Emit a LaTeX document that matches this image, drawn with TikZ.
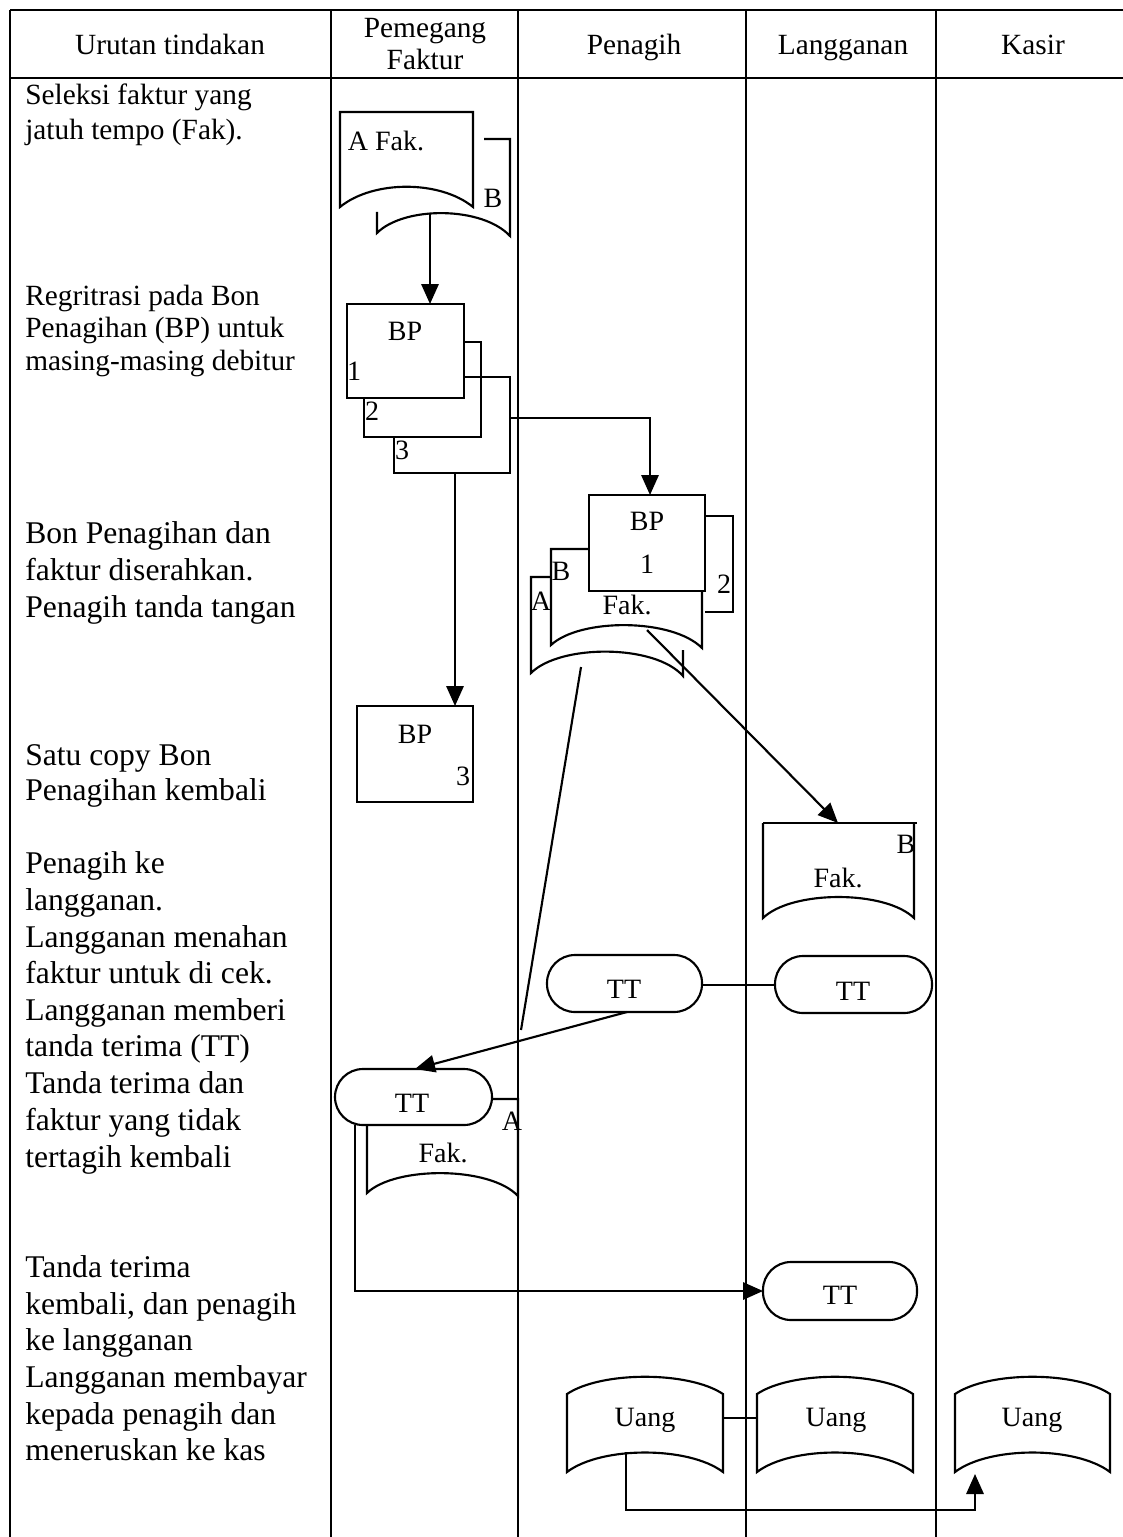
\documentclass[tikz,border=0pt]{standalone}
\usepackage{fontspec}
\setmainfont{Liberation Serif}
\usetikzlibrary{arrows.meta}
\begin{document}
\begin{tikzpicture}[x=0.75pt,y=-0.75pt,
  tbl/.style={line width=1.0pt},
  shp/.style={line width=1.6pt},
  arr/.style={line width=1.6pt,-{Triangle[length=15pt,width=13pt]}},
  lbl/.style={font=\fontsize{21}{25}\selectfont,inner sep=0pt,anchor=base},
  txt/.style={font=\fontsize{22}{27}\selectfont,inner sep=0pt,anchor=base west},
  txtb/.style={font=\fontsize{23.7}{28}\selectfont,inner sep=0pt,anchor=base west},
  hdr/.style={font=\fontsize{22}{26}\selectfont,inner sep=0pt,anchor=base}]
\useasboundingbox (0,0) rectangle (1123,1537);
\fill[white] (0,0) rectangle (1123,1537);
% table
\draw[tbl] (10,10) -- (1123,10);
\draw[tbl] (10,78) -- (1123,78);
\draw[tbl] (10,10) -- (10,1537);
\foreach \xx in {331,518,746,936} \draw[tbl] (\xx,10) -- (\xx,1537);
\node[hdr] (h1) at (170,55) {Urutan tindakan};
\node[hdr] (h2a) at (425,38) {Pemegang};
\node[hdr] (h2b) at (425,70) {Faktur};
\node[hdr] (h3) at (634,55) {Penagih};
\node[hdr] (h4) at (843,55) {Langganan};
\node[hdr] (h5) at (1033,55) {Kasir};
% left column text
\foreach \yy/\tt [count=\i] in {105/{Seleksi faktur yang},140/{jatuh tempo (Fak).},
  305/{Regritrasi pada Bon},337/{Penagihan (BP) untuk},370/{masing-masing debitur}}
  \node[txt] (t\i) at (25,\yy) {\tt};
\foreach \yy/\tt [count=\i] in {
  543/{Bon Penagihan dan},580/{faktur diserahkan.},617/{Penagih tanda tangan},
  765/{Satu copy Bon},800/{Penagihan kembali},
  873/{Penagih ke},910/{langganan.},947/{Langganan menahan},983/{faktur untuk di cek.},
  1020/{Langganan memberi},1056/{tanda terima (TT)},1093/{Tanda terima dan},
  1130/{faktur yang tidak},1167/{tertagih kembali},
  1277/{Tanda terima},1314/{kembali, dan penagih},1350/{ke langganan},
  1387/{Langganan membayar},1424/{kepada penagih dan},1460/{meneruskan ke kas}}
  \node[txtb] (s\i) at (25,\yy) {\tt};
% --- A Fak. / B documents
\draw[shp,fill=white] (484,139) -- (510,139) -- (510,236)
   .. controls (482,206) and (404,206) .. (377,233) -- (377,212);
\draw[shp,fill=white] (340,112) -- (473,112) -- (473,207)
   .. controls (440,180) and (373,180) .. (340,207) -- cycle;
\node[lbl] (fakA) at (386,151) {A Fak.};
\node[lbl] (labB) at (493,208) {B};
\coordinate (docBbot) at (430,213);
% BP 1,2,3
\draw[shp] (464,377) -- (510,377) -- (510,473) -- (394,473) -- (394,437);
\draw[shp] (464,342) -- (481,342) -- (481,437) -- (364,437) -- (364,398);
\draw[shp] (347,304) rectangle (464,398);
\coordinate (bp1top) at (430,304);
\node[lbl] (bp1) at (405,340) {BP};
\node[lbl] (n1) at (354,380) {1};
\node[lbl] (n2) at (372,420) {2};
\node[lbl] (n3) at (402,459) {3};
\coordinate (bp3right) at (510,418);
\coordinate (bp3bot) at (455,473);
\draw[arr] (docBbot) -- (bp1top);
% Penagih stack
\draw[shp] (705,516) -- (733,516) -- (733,612) -- (705,612);
\draw[shp] (551,577) -- (531,577) -- (531,673)
   .. controls (560,644) and (655,644) .. (683,676) -- (683,650);
\draw[shp,fill=white] (589,549) -- (551,549) -- (551,645)
   .. controls (580,618) and (672,618) .. (702,648) -- (702,591);
\draw[shp,fill=white] (589,495) rectangle (705,591);
\coordinate (pbptop) at (650,495);
\node[lbl] (pbp) at (647,530) {BP};
\node[lbl] (p1) at (647,573) {1};
\node[lbl] (p2) at (724,593) {2};
\node[lbl] (pB) at (561,580) {B};
\node[lbl] (pA) at (541,610) {A};
\node[lbl] (pfak) at (627,614) {Fak.};
\coordinate (pfakout) at (647,630);
\coordinate (pfakA) at (581,667);
\draw[arr] (bp3right) -- (650,418) -- (pbptop);
% BP 3 copy
\draw[shp] (357,706) rectangle (473,802);
\coordinate (bp3ctop) at (455,706);
\node[lbl] (cbp) at (415,743) {BP};
\node[lbl] (c3) at (463,785) {3};
\draw[arr] (bp3bot) -- (bp3ctop);
% Langganan Fak
\draw[shp] (763,823) -- (917,823);
\draw[shp] (914,823) -- (914,918)
   .. controls (885,890) and (792,890) .. (763,918) -- (763,823);
\coordinate (lfaktop) at (838,823);
\node[lbl] (lB) at (906,853) {B};
\node[lbl] (lfak) at (838,887) {Fak.};
\draw[arr] (pfakout) -- (lfaktop);
% TT boxes
\draw[shp,rounded corners=21pt] (547,955) rectangle (702,1012);
\node[lbl] (tt1) at (624,998) {TT};
\draw[shp,rounded corners=21pt] (775,956) rectangle (932,1013);
\node[lbl] (tt2) at (853,1000) {TT};
\coordinate (tt1r) at (702,985);
\coordinate (tt2l) at (775,985);
\coordinate (tt1b) at (627,1012);
\draw[shp] (tt1r) -- (tt2l);
% TT + Fak at Pemegang
\draw[shp] (367,1125) -- (367,1193)
   .. controls (395,1166) and (490,1166) .. (518,1196) -- (518,1099) -- (492,1099);
\draw[shp,rounded corners=21pt,fill=white] (335,1069) rectangle (492,1125);
\coordinate (tt3top) at (415,1069);
\coordinate (tt3bl) at (355,1125);
\coordinate (lineend) at (521,1030);
\node[lbl] (tt3) at (412,1112) {TT};
\node[lbl] (fA) at (512,1130) {A};
\node[lbl] (ffak) at (443,1162) {Fak.};
\draw[shp] (pfakA) -- (lineend);
\draw[arr] (tt1b) -- (tt3top);
% TT langganan bottom
\draw[shp,rounded corners=21pt] (763,1262) rectangle (917,1320);
\node[lbl] (tt4) at (840,1304) {TT};
\coordinate (tt4l) at (763,1291);
\draw[arr] (tt3bl) -- (355,1291) -- (tt4l);
% Uang
\foreach \xl/\xr/\nm in {567/723/u1,757/913/u2,955/1110/u3}{
  \draw[shp] (\xl,1394) .. controls ({\xl+0.22*(\xr-\xl)},1371) and ({\xr-0.22*(\xr-\xl)},1371) .. (\xr,1394)
    -- (\xr,1472) .. controls ({\xr-0.22*(\xr-\xl)},1446) and ({\xl+0.22*(\xr-\xl)},1446) .. (\xl,1472) -- cycle;
}
\node[lbl] (ug1) at (645,1426) {Uang};
\node[lbl] (ug2) at (836,1426) {Uang};
\node[lbl] (ug3) at (1032,1426) {Uang};
\coordinate (u1r) at (723,1418);
\coordinate (u2l) at (757,1418);
\coordinate (u1b) at (626,1452);
\coordinate (u3b) at (975,1474);
\draw[shp] (u1r) -- (u2l);
\draw[arr] (u1b) -- (626,1510) -- (975,1510) -- (u3b);
\end{tikzpicture}
\end{document}
